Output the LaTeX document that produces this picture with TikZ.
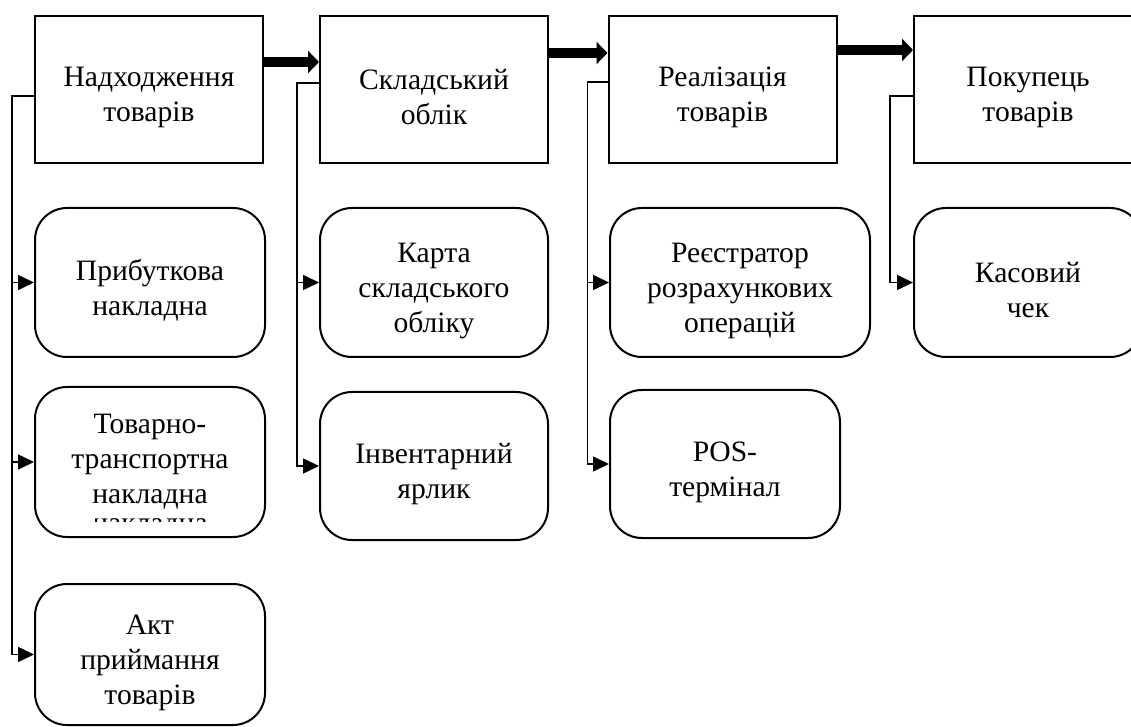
\documentclass[tikz,border=0pt]{standalone}
\usepackage{fontspec}
\setmainfont{Liberation Serif}
\usetikzlibrary{calc,arrows.meta}
\tikzset{
  stage/.style={draw=black,line width=1pt,align=center,inner sep=2pt,
    font=\fontsize{14.8}{17.5}\selectfont},
  doc/.style={stage,rounded corners=16pt},
  branch/.style={line width=0.8pt},
  tip/.style={-{Triangle[length=8pt,width=7.5pt]}},
  bigarrow/.style={line width=5pt,-{Triangle[length=5.5pt,width=11pt]}}
}
\def\drawbranch{\draw[branch]}
\def\drawflow{\draw[branch,tip]}
\def\stagenode{\node[stage,minimum width=114pt,minimum height=73.5pt]}
\def\tl{\rule{0pt}{18pt}}% taller first line, pushes the text down a little

\begin{document}
\begin{tikzpicture}[x=0.5pt,y=-0.5pt]
\useasboundingbox (0,0) rectangle (1131,727);

% ---------- the four stages along the top
\stagenode (nadh) at (149,89.5) {\tl Надходження\\товарів};
\stagenode (sklad) at (434,89.5) {\tl Складський\\облік};
\stagenode (real) at (722.5,89.5) {\tl Реалізація\\товарів};
\stagenode (pokup) at (1028,89.5) {\tl Покупець\\товарів};

\draw[bigarrow] ($ (nadh.east) + (0,-27.5) $) coordinate (a1) -- (a1 -| sklad.west);
\draw[bigarrow] ($ (sklad.east) + (0,-36.5) $) coordinate (a2) -- (a2 -| real.west);
\draw[bigarrow] ($ (real.east) + (0,-39.5) $) coordinate (a3) -- (a3 -| pokup.west);

% ---------- documents of each stage
\node[doc,minimum width=115pt,minimum height=74.5pt] (prybut) at (150,282.5) {\tl Прибуткова\\накладна};
\node[doc,minimum width=115pt,minimum height=75pt] (ttn) at (150,462) {Товарно-\\транспортна\\накладна};
\node[doc,minimum width=115pt,minimum height=70.5pt] (akt) at (150,654.5) {\tl Акт\\приймання\\товарів};

\node[doc,minimum width=114pt,minimum height=74.5pt] (karta) at (434,282.5) {\tl Карта\\складського\\обліку};
\node[doc,minimum width=114pt,minimum height=74pt] (inv) at (434,466) {\tl Інвентарний\\ярлик};

\node[doc,minimum width=130pt,minimum height=74.5pt] (reestr) at (740,282.5) {\tl Реєстратор\\розрахункових\\операцій};
\node[doc,minimum width=115pt,minimum height=74pt] (pos) at (725,464) {\tl POS-\\термінал};

\node[doc,minimum width=114pt,minimum height=74.5pt] (kasa) at (1028,282.5) {\tl Касовий\\чек};

% cut-off line under the waybill text
\begin{scope}
\clip (95,518) rectangle (205,521);
\node[font=\fontsize{14.8}{17.5}\selectfont,anchor=base,inner sep=0pt] (ttn_cut) at (150,532) {накладна};
\end{scope}

% ---------- branches from each stage down to its documents
\coordinate (nadh_elbow) at ($ (nadh.west) + (-22,6.5) $);
\drawflow (nadh_elbow -| nadh.west) -- (nadh_elbow) |- (akt.west);
\drawflow (nadh_elbow) |- (prybut.west);
\drawflow (nadh_elbow) |- (ttn.west);

\coordinate (sklad_elbow) at ($ (sklad.west) + (-22,-6.5) $);
\drawflow (sklad_elbow -| sklad.west) -- (sklad_elbow) |- (inv.west);
\drawflow (sklad_elbow) |- (karta.west);

\coordinate (real_elbow) at ($ (real.west) + (-20,-7.5) $);
\drawflow (real_elbow -| real.west) -- (real_elbow) |- (pos.west);
\drawflow (real_elbow) |- (reestr.west);

\coordinate (pokup_elbow) at ($ (pokup.west) + (-23,6.5) $);
\drawflow (pokup_elbow -| pokup.west) -- (pokup_elbow) |- (kasa.west);
\end{tikzpicture}
\end{document}
